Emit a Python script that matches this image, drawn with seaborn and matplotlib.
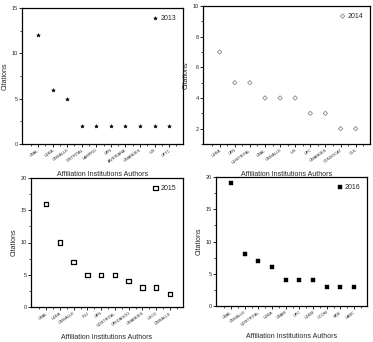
import numpy as np
import pandas as pd
import matplotlib
matplotlib.use("Agg")
import matplotlib.pyplot as plt
import seaborn as sns

# ==========================================
# data
# ==========================================
inst_2013 = ['UNAL', 'UDEA', 'UNIVALLE', 'DISTRITAL', 'UAMPRO', 'UPN', 'JAVERIANA', 'UNIANDES', 'UIS', 'UPTC']
cit_2013 = [12, 6, 5, 2, 2, 2, 2, 2, 2, 2]

inst_2014 = ['UDEA', 'UPN', 'UDISTRITAL', 'UNAL', 'UNIVALLE', 'UIS', 'UPC', 'UNIANDES', 'CONVOCAT', 'CUC']
cit_2014 = [7, 5, 5, 4, 4, 4, 3, 3, 2, 2]

inst_2015 = ['UNAL', 'UDEA', 'UNIVALLE', 'PUJ', 'UPN', 'UDISTRITAL', 'UPEDAGOG', 'UNIANDES', 'USCO', 'UNISALLE']
cit_2015 = [16, 10, 7, 5, 5, 5, 4, 3, 3, 2]

inst_2016 = ['UNAL', 'UNIVALLE', 'UDISTRITAL', 'UDEA', 'UNAM', 'UPC', 'UDEM', 'UCOM', 'MDE', 'UABC']
cit_2016 = [19, 8, 7, 6, 4, 4, 4, 3, 3, 3]

sns.set_style("ticks")
plt.rcParams['font.family'] = ['Liberation Sans', 'DejaVu Sans']

fig = plt.figure(figsize=(3.73, 3.42), dpi=100)
W, H = 373, 342

# axes boxes in pixels: left, top, right, bottom
boxes = {
    '2013': (22, 8, 183, 144),
    '2014': (203, 6, 370, 144),
    '2015': (31, 178, 183, 307),
    '2016': (216, 177, 367, 306),
}

panels = [
    ('2013', inst_2013, cit_2013, dict(marker='*', s=7, color='black', edgecolor='black', linewidth=0.4), (0, 15), [0, 5, 10, 15]),
    ('2014', inst_2014, cit_2014, dict(marker='D', s=5, facecolor='none', edgecolor='#8a8a8a', linewidth=0.6), (1, 10), [2, 4, 6, 8, 10]),
    ('2015', inst_2015, cit_2015, dict(marker='s', s=10, facecolor='none', edgecolor='black', linewidth=0.9), (0, 20), [0, 5, 10, 15, 20]),
    ('2016', inst_2016, cit_2016, dict(marker='s', s=11, color='black', edgecolor='black', linewidth=0.3), (0, 20), [0, 5, 10, 15, 20]),
]

for year, inst, cit, style, ylim, yticks in panels:
    l, t, r, b = boxes[year]
    ax = fig.add_axes([l / W, 1 - b / H, (r - l) / W, (b - t) / H])
    df = pd.DataFrame({'inst': inst, 'cit': cit})
    sns.scatterplot(data=df, x='inst', y='cit', ax=ax, label=year, **style)

    ax.set_xlim(-1.1, len(inst) - 0.05)
    ax.set_ylim(*ylim)
    ax.set_yticks(yticks)
    step = yticks[1] - yticks[0]
    ax.set_yticks(np.arange(ylim[0], ylim[1] + 0.01, step / 2), minor=True)
    ax.set_xticks(np.arange(-0.5, len(inst), 1.0), minor=True)
    ax.set_xticks(range(len(inst)))
    ax.set_xticklabels(inst, rotation=35, ha='right', rotation_mode='anchor', fontsize=2.8)
    ax.tick_params(axis='y', labelsize=4, length=2, width=0.6, pad=1, color='black')
    ax.tick_params(axis='x', length=2, width=0.6, pad=1, color='black')
    ax.tick_params(which='minor', length=1.3, width=0.5, color='black')

    for sp in ax.spines.values():
        sp.set_linewidth(0.9)
        sp.set_color('black')
        sp.set_visible(True)

    ax.set_xlabel('Affiliation Institutions Authors', fontsize=5, labelpad=5)
    ax.set_ylabel('Citations', fontsize=5, labelpad=2)

    leg = ax.legend(loc='upper right', frameon=False, fontsize=5, handletextpad=0.3,
                    borderaxespad=0.6, markerscale=1.0, handlelength=0.8)

fig.savefig('out.png', dpi=100)
